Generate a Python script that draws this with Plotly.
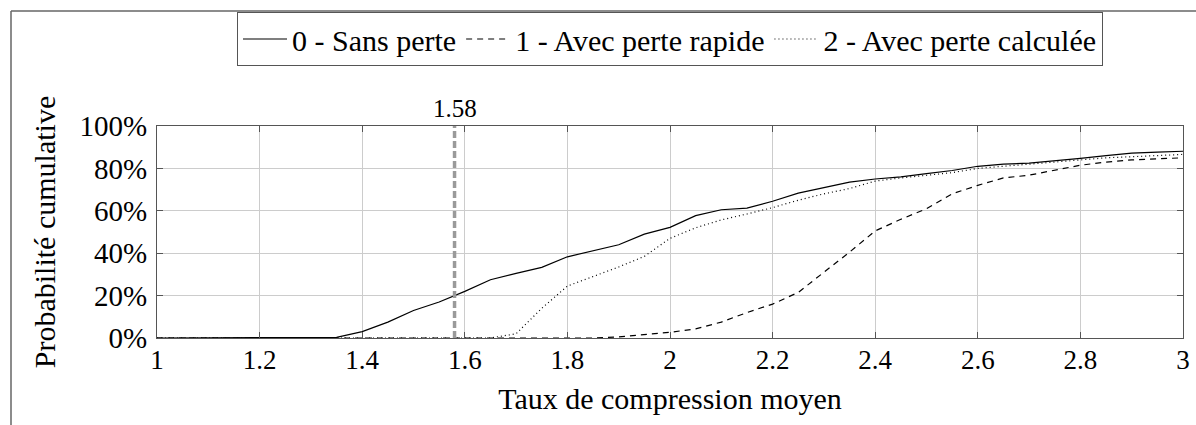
import plotly.graph_objects as go

# ---- data ----
taux = [1.00, 1.05, 1.10, 1.15, 1.20, 1.25, 1.30, 1.35, 1.40, 1.45,
        1.50, 1.55, 1.60, 1.65, 1.70, 1.75, 1.80, 1.85, 1.90, 1.95,
        2.00, 2.05, 2.10, 2.15, 2.20, 2.25, 2.30, 2.35, 2.40, 2.45,
        2.50, 2.55, 2.60, 2.65, 2.70, 2.75, 2.80, 2.85, 2.90, 2.95, 3.00]

sans_perte = [0, 0, 0, 0, 0, 0, 0, 0.3, 3, 7.5,
              13, 17, 22, 27.5, 30.5, 33.3, 38.3, 41.3, 44, 49,
              52.2, 57.7, 60.5, 61.3, 64.5, 68.3, 71, 73.5, 75, 76,
              77.5, 79, 81, 82, 82.5, 83.5, 84.7, 86, 87.2, 87.7, 88.1]

perte_rapide = [0, 0, 0, 0, 0, 0, 0, 0, 0, 0,
                0, 0, 0, 0, 0, 0, 0, 0, 0.5, 1.5,
                2.7, 4.3, 7.5, 12, 16, 21.5, 31, 40.5, 50.5, 56,
                61, 68, 72, 75.5, 76.8, 79, 81.5, 83, 84, 84.5, 85]

perte_calculee = [0, 0, 0, 0, 0, 0, 0, 0, 0, 0,
                  0, 0, 0, 0, 2, 14, 24.5, 29, 33.5, 38.5,
                  47, 52, 55.7, 58.5, 61.5, 65, 68, 70.5, 74, 75.5,
                  76.8, 78, 80, 81, 82, 83, 84.2, 85, 85.5, 86, 86.6]

series_names = ["0 - Sans perte", "1 - Avec perte rapide", "2 - Avec perte calculée"]

x_ticks = [1, 1.2, 1.4, 1.6, 1.8, 2, 2.2, 2.4, 2.6, 2.8, 3]
x_tick_labels = ["1", "1.2", "1.4", "1.6", "1.8", "2", "2.2", "2.4", "2.6", "2.8", "3"]
y_ticks = [0, 20, 40, 60, 80, 100]
y_tick_labels = ["0%", "20%", "40%", "60%", "80%", "100%"]

seuil = 1.58
seuil_label = "1.58"

# ---- layout constants ----
W, H = 1196, 425
ML, MR, MT, MB = 157, 13, 126, 87
PW, PH = W - ML - MR, H - MT - MB

def px_to_paper_x(px):
    return (px - ML) / PW

def px_to_paper_y(py):
    return (H - MB - py) / PH

FONT = "Liberation Serif"

fig = go.Figure()
fig.add_trace(go.Scatter(x=taux, y=sans_perte, mode="lines", name=series_names[0],
                         line=dict(color="black", width=1.2)))
fig.add_trace(go.Scatter(x=taux, y=perte_rapide, mode="lines", name=series_names[1],
                         line=dict(color="black", width=1.2, dash="6px,5px")))
fig.add_trace(go.Scatter(x=taux, y=perte_calculee, mode="lines", name=series_names[2],
                         line=dict(color="black", width=1.2, dash="1px,3px")))

# vertical threshold line
fig.add_shape(type="line", xref="x", yref="y", x0=seuil, x1=seuil, y0=0, y1=100,
              line=dict(color="#9a9a9a", width=3.5, dash="7px,3px"), layer="above")
fig.add_annotation(x=seuil, y=100, xref="x", yref="y", text=seuil_label,
                   showarrow=False, yanchor="bottom", yshift=2,
                   font=dict(family=FONT, size=25, color="black"))

# outer frame lines (top and left)
fig.add_shape(type="line", xref="paper", yref="paper",
              x0=px_to_paper_x(11), x1=px_to_paper_x(W + 5),
              y0=px_to_paper_y(11), y1=px_to_paper_y(11),
              line=dict(color="#666666", width=1.5))
fig.add_shape(type="line", xref="paper", yref="paper",
              x0=px_to_paper_x(11), x1=px_to_paper_x(11),
              y0=px_to_paper_y(11), y1=px_to_paper_y(H + 5),
              line=dict(color="#666666", width=1.5))

fig.update_layout(
    template="none",
    width=W, height=H,
    margin=dict(l=ML, r=MR, t=MT, b=MB, autoexpand=False),
    paper_bgcolor="white", plot_bgcolor="white",
    font=dict(family=FONT, color="black"),
    showlegend=True,
    legend=dict(orientation="h", x=0.5, xanchor="center",
                y=px_to_paper_y(39), yanchor="middle",
                font=dict(family=FONT, size=30, color="black"),
                bordercolor="#555555", borderwidth=1, bgcolor="white",
                itemwidth=44, tracegroupgap=0),
    xaxis=dict(range=[1, 3], tickvals=x_ticks, ticktext=x_tick_labels,
               automargin=False,
               showgrid=True, gridcolor="#cccccc", gridwidth=1,
               showline=True, linecolor="#555555", linewidth=1.3, mirror="ticks",
               ticks="inside", ticklen=6, tickcolor="#555555",
               tickfont=dict(family=FONT, size=27, color="black"),
               ticklabelstandoff=-3,
               zeroline=False,
               title=dict(text="Taux de compression moyen",
                          font=dict(family=FONT, size=30, color="black"), standoff=14)),
    yaxis=dict(range=[0, 100], tickvals=y_ticks, ticktext=y_tick_labels,
               automargin=False,
               showgrid=True, gridcolor="#cccccc", gridwidth=1,
               showline=True, linecolor="#555555", linewidth=1.3, mirror="ticks",
               ticks="inside", ticklen=6, tickcolor="#555555",
               tickfont=dict(family=FONT, size=29, color="black"),
               ticklabelstandoff=3,
               zeroline=False,
               title=dict(text="Probabilité cumulative",
                          font=dict(family=FONT, size=30, color="black"), standoff=14)),
)

fig.write_html("out.html",
               config={"displayModeBar": False},
               post_script="document.body.style.margin='0';document.body.style.overflow='hidden';")
